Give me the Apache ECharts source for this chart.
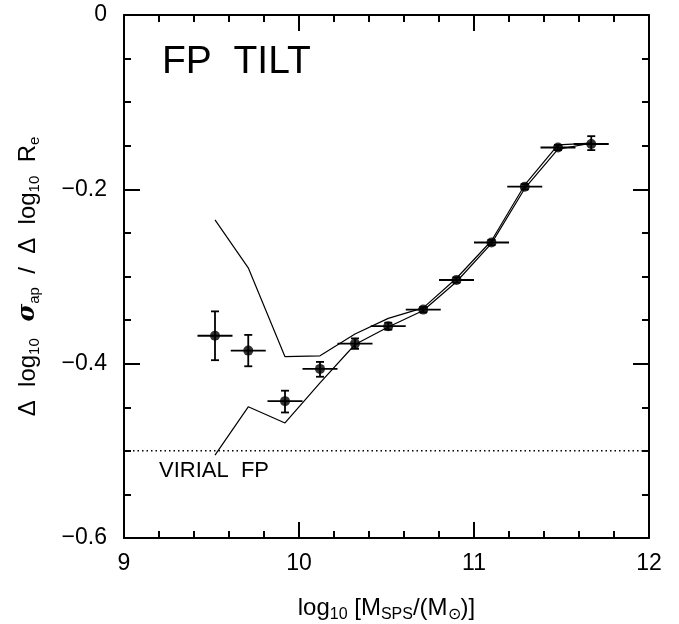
<!DOCTYPE html>
<html>
<head>
<meta charset="utf-8">
<script src="https://cdn.jsdelivr.net/npm/echarts@6/dist/echarts.min.js"></script>
<style>html,body{margin:0;padding:0;background:#fff;}#c{width:679px;height:624px;}</style>
</head>
<body>
<div id="c"></div>
<script>
// Data
var massX   = [9.52, 9.71, 9.92, 10.12, 10.32, 10.51, 10.71, 10.90, 11.10, 11.29, 11.48, 11.67];
var tiltY   = [-0.368, -0.385, -0.443, -0.406, -0.377, -0.357, -0.338, -0.304, -0.261, -0.197, -0.152, -0.148];
var tiltLo  = [-0.396, -0.403, -0.456, -0.415, -0.383, -0.361, -0.341, -0.307, -0.264, -0.200, -0.155, -0.155];
var tiltHi  = [-0.340, -0.367, -0.431, -0.398, -0.371, -0.353, -0.335, -0.301, -0.258, -0.194, -0.149, -0.139];
var xErr    = [0.10, 0.10, 0.10, 0.10, 0.10, 0.10, 0.10, 0.10, 0.10, 0.10, 0.10, 0.10];
var upperY  = [-0.235, -0.290, -0.392, -0.391, -0.366, -0.348, -0.336, -0.302, -0.259, -0.195, -0.149, -0.147];
var lowerY  = [-0.505, -0.4495, -0.468, -0.422, -0.378, -0.358, -0.339, -0.306, -0.262, -0.199, -0.154, -0.147];
var virialY = -0.5;
var xTicks = [9, 10, 11, 12];
var yTicks = [0, -0.2, -0.4, -0.6];

var pts = massX.map(function (x, i) { return [x, tiltY[i], tiltLo[i], tiltHi[i], xErr[i]]; });
var up = massX.map(function (x, i) { return [x, upperY[i]]; });
var lo = massX.map(function (x, i) { return [x, lowerY[i]]; });

var FONT = '"Liberation Sans", Arial, sans-serif';
var chart = echarts.init(document.getElementById('c'), null, {renderer: 'canvas'});

function axisCommon(show, split) {
  return {
    axisLine: {show: true, onZero: false, lineStyle: {color: '#000', width: 2}},
    axisTick: {show: true, inside: true, length: 16, lineStyle: {color: '#000', width: 2}},
    minorTick: {show: true, splitNumber: split, length: 7, lineStyle: {color: '#000', width: 2}},
    splitLine: {show: false},
    minorSplitLine: {show: false},
    axisLabel: {show: show}
  };
}

var xb = Object.assign(axisCommon(true, 5), {
  type: 'value', min: 9, max: 12, interval: 1, position: 'bottom',
  name: '{t|log}{s|10}{t| [M}{s|SPS}{t|/(M}{s|⊙}{t|)]}',
  nameLocation: 'middle', nameGap: 54,
  nameTextStyle: {rich: {
    t: {fontFamily: FONT, fontSize: 24, color: '#000', lineHeight: 32},
    s: {fontFamily: FONT, fontSize: 16, color: '#000', lineHeight: 32, padding: [14, 0, 0, 0]}
  }},
  axisLabel: {show: true, fontFamily: FONT, fontSize: 23, color: '#000', margin: 14,
    formatter: function (v) { return xTicks.indexOf(v) >= 0 ? String(v) : ''; }}
});
var xt = Object.assign(axisCommon(false, 5), {type: 'value', min: 9, max: 12, interval: 1, position: 'top'});

var yl = Object.assign(axisCommon(true, 4), {
  type: 'value', min: -0.6, max: 0, interval: 0.2, position: 'left',
  name: '{t|Δ  log}{s|10}{g|  σ}{s|ap}{t|  /  Δ  log}{s|10}{t|  R}{s|e}',
  nameLocation: 'middle', nameGap: 80, nameRotate: 90,
  nameTextStyle: {rich: {
    t: {fontFamily: FONT, fontSize: 24, color: '#000', lineHeight: 32},
    g: {fontFamily: '"DejaVu Serif", serif', fontSize: 24, fontStyle: 'italic', fontWeight: 'bold', color: '#000', lineHeight: 32},
    s: {fontFamily: FONT, fontSize: 15, color: '#000', lineHeight: 32, padding: [14, 0, 0, 0]}
  }},
  axisLabel: {show: true, fontFamily: FONT, fontSize: 23, color: '#000', margin: 17,
    formatter: function (v) {
      var r = Math.round(v * 10) / 10;
      if (r === 0) return '0';
      return '−' + Math.abs(r).toFixed(1);
    }}
});
var yr = Object.assign(axisCommon(false, 4), {type: 'value', min: -0.6, max: 0, interval: 0.2, position: 'right'});

var option = {
  backgroundColor: '#fff',
  animation: false,
  grid: {left: 124, right: 30, top: 15, bottom: 86, containLabel: false, outerBoundsMode: 'none'},
  xAxis: [xb, xt],
  yAxis: [yl, yr],
  graphic: [
    {type: 'text', left: 162, top: 43, style: {text: 'FP  TILT', font: '39px ' + FONT, fill: '#000'}},
    {type: 'text', left: 159, top: 460, style: {text: 'VIRIAL  FP', font: '22px ' + FONT, fill: '#000'}}
  ],
  series: [
    {
      type: 'line', data: [[9, virialY], [12, virialY]], symbol: 'none',
      lineStyle: {color: '#000', width: 1.5, type: [1.5, 3]}, z: 1
    },
    {type: 'line', data: up, symbol: 'none', lineStyle: {color: '#000', width: 1.2}, z: 2},
    {type: 'line', data: lo, symbol: 'none', lineStyle: {color: '#000', width: 1.2}, z: 2},
    {
      type: 'custom', data: pts, z: 3,
      renderItem: function (params, api) {
        var x = api.value(0), y = api.value(1), ylo = api.value(2), yhi = api.value(3), xe = api.value(4);
        var pL = api.coord([x - xe, y]), pR = api.coord([x + xe, y]);
        var pB = api.coord([x, ylo]), pT = api.coord([x, yhi]);
        var s = {stroke: '#000', lineWidth: 1.8};
        var cap = 4;
        return {type: 'group', children: [
          {type: 'line', shape: {x1: pL[0], y1: pL[1], x2: pR[0], y2: pR[1]}, style: s},
          {type: 'line', shape: {x1: pB[0], y1: pB[1], x2: pT[0], y2: pT[1]}, style: s},
          {type: 'line', shape: {x1: pB[0] - cap, y1: pB[1], x2: pB[0] + cap, y2: pB[1]}, style: s},
          {type: 'line', shape: {x1: pT[0] - cap, y1: pT[1], x2: pT[0] + cap, y2: pT[1]}, style: s}
        ]};
      }
    },
    {
      type: 'scatter', data: massX.map(function (x, i) { return [x, tiltY[i]]; }),
      symbol: 'circle', symbolSize: 10, itemStyle: {color: '#000'}, z: 4
    }
  ]
};
chart.setOption(option);
</script>
</body>
</html>
